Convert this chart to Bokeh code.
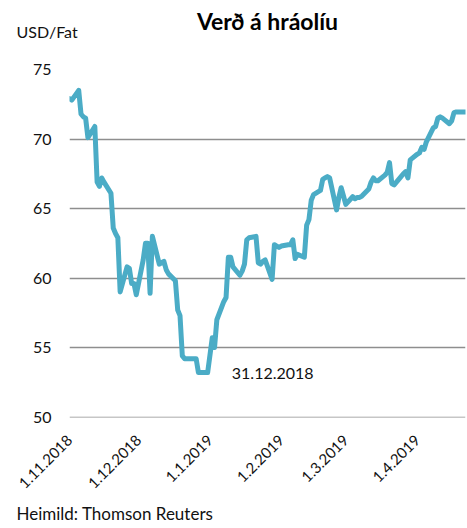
import math
import pandas as pd
from bokeh.plotting import figure
from bokeh.models import Range1d, FixedTicker, Label, ColumnDataSource, Title
from bokeh.embed import file_html
from bokeh.resources import INLINE

# ---------------- data ----------------
dates = [
    "2018-11-01", "2018-11-02", "2018-11-05", "2018-11-06", "2018-11-07", "2018-11-08", "2018-11-09",
    "2018-11-12", "2018-11-13", "2018-11-14", "2018-11-15", "2018-11-16",
    "2018-11-19", "2018-11-20", "2018-11-21", "2018-11-22", "2018-11-23",
    "2018-11-26", "2018-11-27", "2018-11-28", "2018-11-29", "2018-11-30",
    "2018-12-03", "2018-12-04", "2018-12-05", "2018-12-06", "2018-12-07",
    "2018-12-10", "2018-12-11", "2018-12-12", "2018-12-13", "2018-12-14",
    "2018-12-17", "2018-12-18", "2018-12-19", "2018-12-20", "2018-12-21",
    "2018-12-24", "2018-12-26", "2018-12-27", "2018-12-28", "2018-12-31",
    "2019-01-02", "2019-01-03", "2019-01-04",
    "2019-01-07", "2019-01-08", "2019-01-09", "2019-01-10", "2019-01-11",
    "2019-01-14", "2019-01-15", "2019-01-16", "2019-01-17", "2019-01-18",
    "2019-01-21", "2019-01-22", "2019-01-23", "2019-01-24", "2019-01-25",
    "2019-01-28", "2019-01-29", "2019-01-30", "2019-01-31", "2019-02-01",
    "2019-02-04", "2019-02-05", "2019-02-06", "2019-02-07", "2019-02-08",
    "2019-02-11", "2019-02-12", "2019-02-13", "2019-02-14", "2019-02-15",
    "2019-02-18", "2019-02-19", "2019-02-20", "2019-02-21", "2019-02-22",
    "2019-02-25", "2019-02-26", "2019-02-27", "2019-02-28", "2019-03-01",
    "2019-03-04", "2019-03-05", "2019-03-06", "2019-03-07", "2019-03-08",
    "2019-03-11", "2019-03-12", "2019-03-13", "2019-03-14", "2019-03-15",
    "2019-03-18", "2019-03-19", "2019-03-20", "2019-03-21", "2019-03-22",
    "2019-03-25", "2019-03-26", "2019-03-27", "2019-03-28", "2019-03-29",
    "2019-04-01", "2019-04-02", "2019-04-03", "2019-04-04", "2019-04-05",
    "2019-04-08", "2019-04-09", "2019-04-10", "2019-04-11", "2019-04-12",
    "2019-04-15", "2019-04-16", "2019-04-17", "2019-04-18", "2019-04-19",
    "2019-04-22",
]
prices = [
    72.9, 72.8, 73.5, 71.8, 71.6, 71.5, 70.1,
    70.9, 66.9, 66.6, 67.2, 66.9,
    66.1, 63.6, 63.2, 62.9, 59.0,
    60.8, 60.7, 59.6, 59.6, 58.8,
    61.3, 62.5, 62.5, 58.9, 63.0,
    61.0, 61.1, 61.2, 60.6, 60.3,
    59.8, 57.7, 57.3, 54.4, 54.2,
    54.2, 54.2, 53.2, 53.2, 53.2,
    55.7, 55.0, 57.0,
    58.3, 58.6, 61.5, 61.5, 60.8,
    60.2, 60.5, 61.0, 62.75, 62.9,
    63.0, 61.1, 61.0, 61.2, 61.3,
    59.9, 62.4, 62.3, 62.2, 62.3,
    62.4, 62.4, 62.75, 61.4, 61.7,
    61.5, 63.8, 64.2, 65.6, 66.0,
    66.3, 67.1, 67.2, 67.3, 67.2,
    64.9, 65.8, 66.5, 65.9, 65.3,
    65.85, 65.7, 65.8, 65.8, 65.9,
    66.4, 66.9, 67.2, 67.0, 67.0,
    67.4, 67.6, 68.3, 66.8, 66.7,
    67.3, 67.5, 67.65, 67.2, 68.5,
    68.9, 69.0, 69.4, 69.25, 69.8,
    70.8, 70.9, 71.5, 71.6, 71.5,
    71.1, 71.3, 71.9, 71.95, 71.95,
    71.95,
]
tick_dates = ["2018-11-01", "2018-12-01", "2019-01-01", "2019-02-01", "2019-03-01", "2019-04-01"]
tick_labels = ["1.11.2018", "1.12.2018", "1.1.2019", "1.2.2019", "1.3.2019", "1.4.2019"]
y_ticks = [50, 55, 60, 65, 70, 75]
title_text = "Verð á hráolíu"
unit_text = "USD/Fat"
source_text = "Heimild: Thomson Reuters"
note_text = "31.12.2018"
note_date = "2019-01-10 12:00"
note_value = 53.15

# ---------------- figure ----------------
W, H = 466, 528
FL, FT = 69, 69
MB, MR = 110, 1

FONT = "Lato"
COLOR = "#4BACC6"
TXT = "#111111"

x = pd.to_datetime(dates)
x0 = pd.Timestamp(dates[0])
x1 = pd.Timestamp(dates[-1])


def to_ms(ts):
    return pd.Timestamp(ts).value / 1e6


p = figure(width=W, height=H, x_axis_type="datetime", output_backend="svg",
           toolbar_location=None, min_border_left=FL, min_border_top=FT,
           min_border_bottom=MB, min_border_right=MR,
           x_range=Range1d(x0, x1), y_range=Range1d(49.97, 75))
p.outline_line_color = None
p.background_fill_color = "white"
p.border_fill_color = "white"

# title (above)
p.title.text = title_text
p.title.align = "center"
p.title.offset = -20
p.title.text_font = FONT
p.title.text_font_style = "bold"
p.title.text_font_size = "23px"
p.title.text_color = "black"
p.title.standoff = -30

unit_title = Title(text=unit_text, align="left", offset=16 - FL, text_font=FONT,
                   text_font_size="16px", text_font_style="normal",
                   text_color=TXT, standoff=0,
                   padding=dict(left=0, right=0, top=0, bottom=29))
p.add_layout(unit_title, "above")

src_title = Title(text=source_text, align="left", offset=16 - FL, text_font=FONT,
                  text_font_size="17px", text_font_style="normal",
                  text_color=TXT, standoff=9)
p.add_layout(src_title, "below")

# grid
p.xgrid.visible = False
p.ygrid.ticker = FixedTicker(ticks=y_ticks)
p.ygrid.grid_line_color = "#8E8E8E"
p.ygrid.grid_line_width = 1.6

# y axis
p.yaxis.ticker = FixedTicker(ticks=y_ticks)
p.yaxis.axis_line_color = None
p.yaxis.major_tick_line_color = None
p.yaxis.minor_tick_line_color = None
p.yaxis.major_tick_out = 0
p.yaxis.major_tick_in = 0
p.yaxis.minor_tick_out = 0
p.yaxis.major_label_standoff = 18
p.yaxis.major_label_text_font = FONT
p.yaxis.major_label_text_font_size = "16px"
p.yaxis.major_label_text_color = TXT

# x axis
tick_ms = [to_ms(d) for d in tick_dates]
p.xaxis.ticker = FixedTicker(ticks=tick_ms)
p.xaxis.major_label_overrides = {t: lab for t, lab in zip(tick_ms, tick_labels)}
p.xaxis.axis_line_color = None
p.xaxis.major_tick_line_color = None
p.xaxis.minor_tick_line_color = None
p.xaxis.major_tick_out = 0
p.xaxis.major_tick_in = 0
p.xaxis.minor_tick_out = 0
p.xaxis.major_label_orientation = math.pi / 4
p.xaxis.major_label_standoff = 20
p.xaxis.major_label_text_font = FONT
p.xaxis.major_label_text_font_size = "15px"
p.xaxis.major_label_text_color = TXT

src = ColumnDataSource(data=dict(x=x, y=prices))
p.line("x", "y", source=src, line_color=COLOR, line_width=5,
       line_join="round", line_cap="round")

p.add_layout(Label(x=to_ms(note_date), y=note_value, text=note_text, text_align="left",
                   text_baseline="middle", text_font=FONT,
                   text_font_size="16px", text_color=TXT))

open("out.html", "w").write(file_html(p, INLINE))
